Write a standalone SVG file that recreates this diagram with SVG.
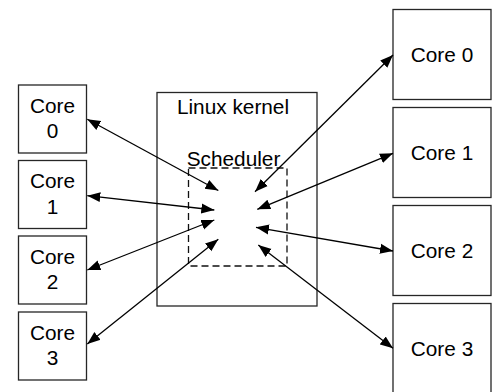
<svg xmlns="http://www.w3.org/2000/svg" width="495" height="392" viewBox="0 0 495 392">
  <style>
    .box { fill: #ffffff; stroke: #262626; stroke-width: 1.3; }
    .dash { fill: none; stroke: #111; stroke-width: 1.3; stroke-dasharray: 7 4; }
    .lbl { font-family: "Liberation Sans", Arial, sans-serif; font-size: 20.8px; fill: #000; text-anchor: middle; }
    .conn { stroke: #000; stroke-width: 1.3; fill: none; marker-start: url(#ah); marker-end: url(#ah); }
  </style>
  <defs>
    <marker id="ah" markerUnits="userSpaceOnUse" markerWidth="14" markerHeight="12" refX="13" refY="5" orient="auto-start-reverse" viewBox="0 0 14 10">
      <path d="M0,0 L13,5 L0,10 Z" fill="#000"/>
    </marker>
  </defs>
  <rect width="495" height="392" fill="#ffffff"/>

  <g id="kernel">
    <rect class="box" x="157" y="92.5" width="160" height="213.5"/>
    <text class="lbl" x="233" y="114">Linux kernel</text>
  </g>
  <g id="scheduler">
    <rect class="dash" x="188.5" y="168" width="98.5" height="98"/>
    <text class="lbl" x="233.5" y="166">Scheduler</text>
  </g>

  <g id="left-core0">
    <rect class="box" x="18.5" y="85" width="68" height="68"/>
    <text class="lbl" x="52.5" y="112.5">Core</text>
    <text class="lbl" x="52.5" y="137.5">0</text>
  </g>
  <g id="left-core1">
    <rect class="box" x="18.5" y="160.5" width="68" height="68"/>
    <text class="lbl" x="52.5" y="188">Core</text>
    <text class="lbl" x="52.5" y="214">1</text>
  </g>
  <g id="left-core2">
    <rect class="box" x="18.5" y="236" width="68" height="68"/>
    <text class="lbl" x="52.5" y="263.5">Core</text>
    <text class="lbl" x="52.5" y="289">2</text>
  </g>
  <g id="left-core3">
    <rect class="box" x="18.5" y="312" width="68" height="68"/>
    <text class="lbl" x="52.5" y="339.5">Core</text>
    <text class="lbl" x="52.5" y="365">3</text>
  </g>

  <g id="right-core0">
    <rect class="box" x="393" y="9.5" width="98" height="90"/>
    <text class="lbl" x="442" y="61.5">Core 0</text>
  </g>
  <g id="right-core1">
    <rect class="box" x="393" y="107.5" width="98" height="90"/>
    <text class="lbl" x="442" y="159.5">Core 1</text>
  </g>
  <g id="right-core2">
    <rect class="box" x="393" y="205.5" width="98" height="90"/>
    <text class="lbl" x="442" y="258">Core 2</text>
  </g>
  <g id="right-core3">
    <rect class="box" x="393" y="303.5" width="98" height="90"/>
    <text class="lbl" x="442" y="356">Core 3</text>
  </g>

  <g id="connectors">
    <line class="conn" x1="87.3" y1="119.3" x2="218.3" y2="190.5"/>
    <line class="conn" x1="87.3" y1="195.7" x2="214.3" y2="210"/>
    <line class="conn" x1="87.3" y1="270" x2="214.3" y2="220"/>
    <line class="conn" x1="87.3" y1="344" x2="218.3" y2="239.3"/>
    <line class="conn" x1="393" y1="55" x2="255" y2="191.7"/>
    <line class="conn" x1="393" y1="153.3" x2="257.3" y2="209.3"/>
    <line class="conn" x1="393" y1="251" x2="256" y2="227.3"/>
    <line class="conn" x1="393" y1="348.3" x2="258.3" y2="245"/>
  </g>
</svg>
